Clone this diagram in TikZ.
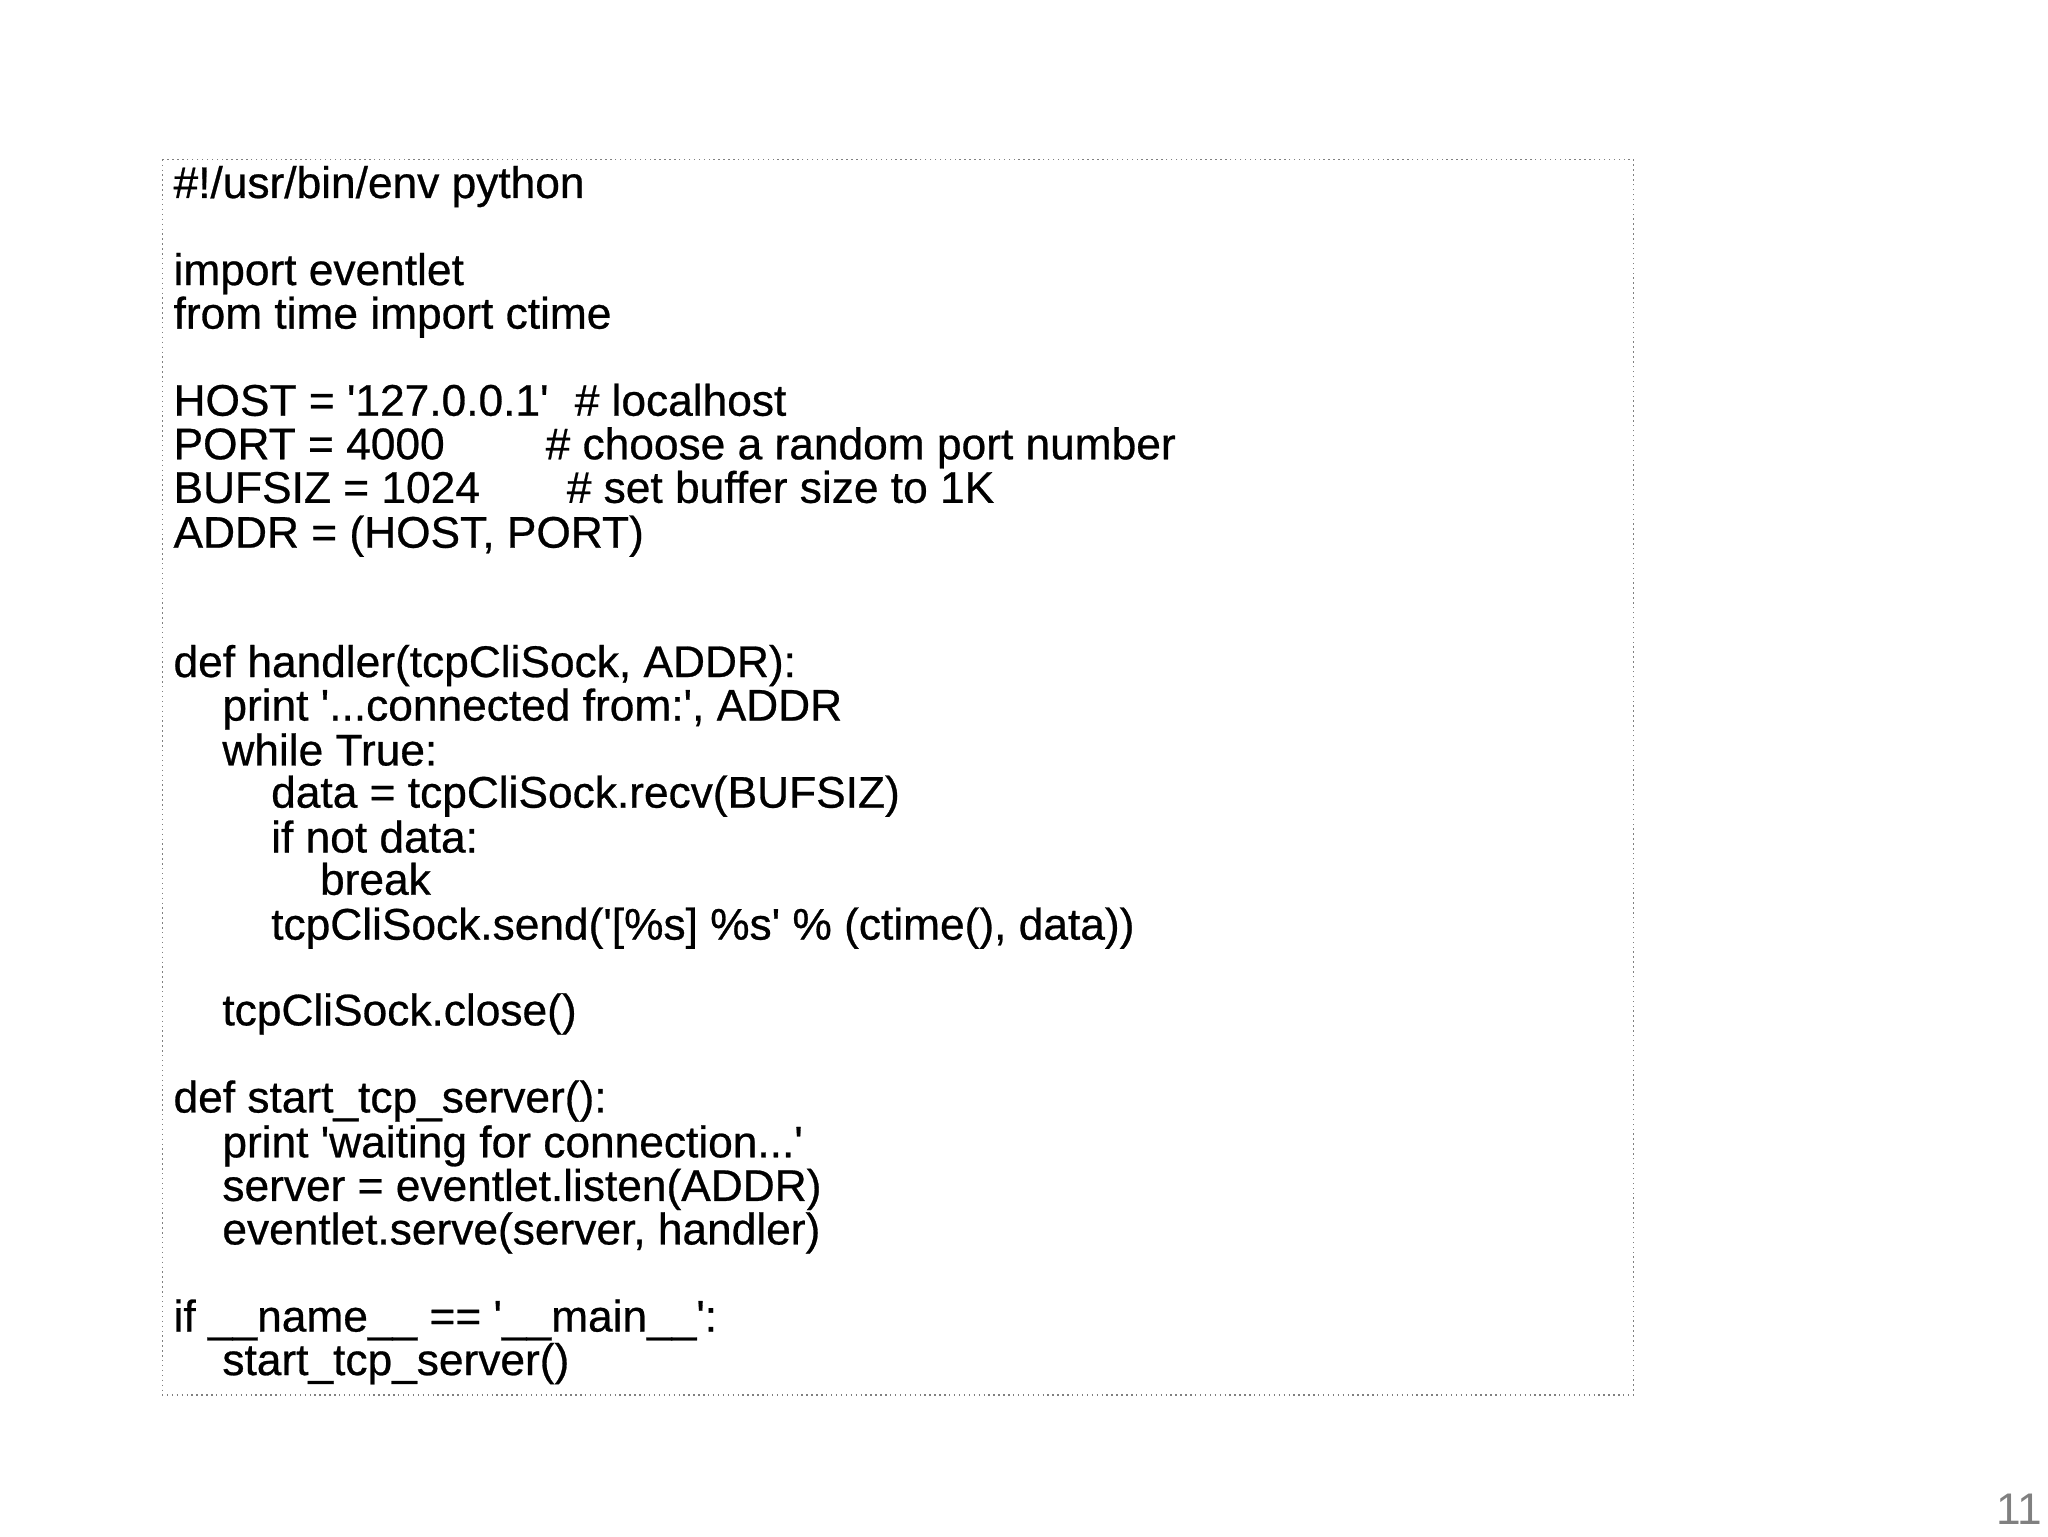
\documentclass[tikz,border=0pt]{standalone}
\usepackage{fontspec}
\setmainfont{Liberation Sans}[BoldFont=Liberation Sans,BoldFeatures={FakeBold=0.6}]
\begin{document}
\begin{tikzpicture}[x=0.013196cm,y=-0.013196cm,
  code/.style={anchor=mid west,inner sep=0pt,font=\fontsize{12.6}{14}\selectfont\bfseries}]
\def\q{\textquotesingle}
\useasboundingbox (0,0) rectangle (1552,1164);
\draw[densely dotted,gray] (123,121) rectangle (1238,1057);
\def\a{131}\def\b{168}\def\c{205}\def\d{242}
\node[code] (l1) at (\a,143) {\#!/usr/bin/env python};
\node[code] (l2) at (\a,209) {import eventlet};
\node[code] (l3) at (\a,242) {from time import ctime};
\node[code] (l4) at (\a,308) {HOST = \q127.0.0.1\q};
\node[code] (c4) at (435,308) {\# localhost};
\node[code] (l5) at (\a,341) {PORT = 4000};
\node[code] (c5) at (413,341) {\# choose a random port number};
\node[code] (l6) at (\a,374) {BUFSIZ = 1024};
\node[code] (c6) at (429,374) {\# set buffer size to 1K};
\node[code] (l7) at (\a,408) {ADDR = (HOST, PORT)};
\node[code] (l8) at (\a,506) {def handler(tcpCliSock, ADDR):};
\node[code] (l9) at (\b,539) {print \q...connected from:\q, ADDR};
\node[code] (l10) at (\b,573) {while True:};
\node[code] (l11) at (\c,605) {data = tcpCliSock.recv(BUFSIZ)};
\node[code] (l12) at (\c,639) {if not data:};
\node[code] (l13) at (\d,671) {break};
\node[code] (l14) at (\c,705) {tcpCliSock.send(\q[\%s] \%s\q{} \% (ctime(), data))};
\node[code] (l15) at (\b,770) {tcpCliSock.close()};
\node[code] (l16) at (\a,836) {def start\_tcp\_server():};
\node[code] (l17) at (\b,870) {print \q waiting for connection...\q};
\node[code] (l18) at (\b,903) {server = eventlet.listen(ADDR)};
\node[code] (l19) at (\b,936) {eventlet.serve(server, handler)};
\node[code] (l20) at (\a,1002) {if \_\_name\_\_ == \q\_\_main\_\_\q:};
\node[code] (l21) at (\b,1035) {start\_tcp\_server()};
\node[code,anchor=mid east,text=gray,font=\fontsize{12.6}{14}\selectfont] (pg) at (1548,1148) {11};
\end{tikzpicture}
\end{document}
